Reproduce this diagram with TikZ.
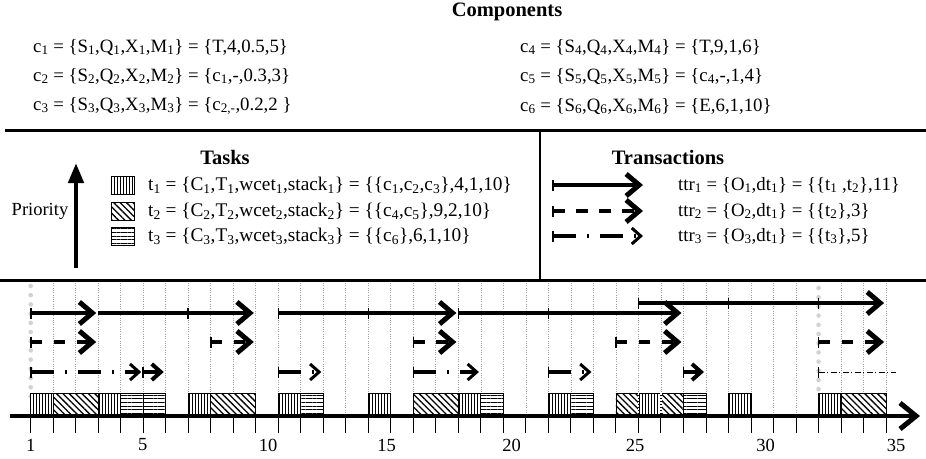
\documentclass[tikz,border=0pt]{standalone}
\usepackage{fontspec}
\setmainfont{Liberation Serif}
\usetikzlibrary{arrows.meta,patterns.meta,calc}
\newcommand{\dnidx}[1]{\textsubscript{#1}}

\begin{document}
\begin{tikzpicture}[x=1pt,y=-1pt,
  body/.style={inner sep=0pt,anchor=west,font=\fontsize{18.8}{22}\selectfont},
  taskline/.style={inner sep=0pt,anchor=west,font=\fontsize{19.3}{22}\selectfont},
  head/.style={inner sep=0pt,font=\fontsize{20.5}{22}\selectfont\bfseries},
  num/.style={inner sep=0pt,font=\fontsize{18.5}{22}\selectfont},
  rulebar/.style={line width=3pt},
  gridln/.style={gray!75,line width=0.8pt,dash pattern=on 1pt off 1.3pt},
  bigdots/.style={gray!35,line width=4.6pt,line cap=round,dash pattern=on 0pt off 9.2pt},
  tone/.style={preaction={fill=white},pattern={Lines[angle=90,distance=3pt,line width=0.8pt]},draw,line width=0.9pt},
  ttwo/.style={preaction={fill=white},pattern={Lines[angle=-45,distance=4.5pt,line width=1.3pt]},draw,line width=0.9pt},
  tthree/.style={preaction={fill=white},pattern={Lines[angle=0,distance=3.7pt,line width=0.9pt]},draw,line width=0.9pt},
  solidarr/.style={line width=3.5pt,-{Straight Barb[length=13pt,width=22pt,line width=5pt]},shorten >=2pt},
  dasharr/.style={solidarr,dash pattern=on 11.5pt off 11.5pt},
  dotarr/.style={line width=3.5pt,dash pattern=on 23pt off 11pt on 2pt off 11pt,-{Straight Barb[length=9pt,width=16pt,line width=3pt]},shorten >=2pt},
  shortarr/.style={line width=3.5pt,-{Straight Barb[length=9pt,width=16pt,line width=4pt]},shorten >=2pt},
  thindot/.style={line width=1pt,dash pattern=on 6pt off 2.5pt on 1pt off 2.5pt},
  barmk/.style={rectangle,fill=black,inner sep=0pt,minimum width=1.6pt,minimum height=11pt},
]
\useasboundingbox (0,0) rectangle (926,458);

% ---------- header: components ----------
\node[head] (comp) at (507,12) {Components};
\node[body] (c1) at (33,47)  {c\dnidx{1} = \{S\dnidx{1},Q\dnidx{1},X\dnidx{1},M\dnidx{1}\} = \{T,4,0.5,5\}};
\node[body] (c2) at (33,76)  {c\dnidx{2} = \{S\dnidx{2},Q\dnidx{2},X\dnidx{2},M\dnidx{2}\} = \{c\dnidx{1},-,0.3,3\}};
\node[body] (c3) at (33,106) {c\dnidx{3} = \{S\dnidx{3},Q\dnidx{3},X\dnidx{3},M\dnidx{3}\} = \{c\dnidx{2,-},0.2,2 \}};
\node[body] (c4) at (520,47)  {c\dnidx{4} = \{S\dnidx{4},Q\dnidx{4},X\dnidx{4},M\dnidx{4}\} = \{T,9,1,6\}};
\node[body] (c5) at (520,76)  {c\dnidx{5} = \{S\dnidx{5},Q\dnidx{5},X\dnidx{5},M\dnidx{5}\} = \{c\dnidx{4},-,1,4\}};
\node[body] (c6) at (520,106) {c\dnidx{6} = \{S\dnidx{6},Q\dnidx{6},X\dnidx{6},M\dnidx{6}\} = \{E,6,1,10\}};

% ---------- separators ----------
\coordinate (sa) at (5,130.5);   \coordinate (sb) at (926,130.5);
\coordinate (sc) at (540,130.5); \coordinate (sd) at (540,280);
\coordinate (se) at (0,280);     \coordinate (sf) at (926,280);
\draw[rulebar] (sa) -- (sb);
\draw[line width=2.5pt] (sc) -- (sd);
\draw[rulebar] (se) -- (sf);

% ---------- tasks legend ----------
\node[head] (tasks) at (225,157) {Tasks};
\node[num,anchor=center] (prio) at (40,211) {Priority};
\coordinate (pa) at (76,268); \coordinate (pb) at (76,163);
\draw[line width=4.5pt,-{Triangle[length=20pt,width=15pt]}] (pa) -- (pb);
\draw[tone]   (111,176) rectangle (134,194);
\draw[ttwo]   (111,202) rectangle (134,220);
\draw[tthree] (111,227) rectangle (134,245);
\node[taskline] (t1) at (148,185) {t\dnidx{1} = \{C\dnidx{1},T\dnidx{1},wcet\dnidx{1},stack\dnidx{1}\} = \{\{c\dnidx{1},c\dnidx{2},c\dnidx{3}\},4,1,10\}};
\node[taskline] (t2) at (148,211) {t\dnidx{2} = \{C\dnidx{2},T\dnidx{2},wcet\dnidx{2},stack\dnidx{2}\} = \{\{c\dnidx{4},c\dnidx{5}\},9,2,10\}};
\node[taskline] (t3) at (148,236) {t\dnidx{3} = \{C\dnidx{3},T\dnidx{3},wcet\dnidx{3},stack\dnidx{3}\} = \{\{c\dnidx{6}\},6,1,10\}};

% ---------- transactions legend ----------
\node[head] (trans) at (668,157) {Transactions};
\coordinate (la1) at (553,185); \coordinate (lb1) at (645,185);
\coordinate (la2) at (553,211); \coordinate (lb2) at (645,211);
\coordinate (la3) at (553,236); \coordinate (lb3) at (645,236);
\draw[solidarr] (la1) -- (lb1);
\draw[dasharr]  (la2) -- (lb2);
\draw[dotarr]   (la3) -- (lb3);
\node[barmk] (lbar1) at (la1) {};
\node[barmk] (lbar2) at (la2) {};
\node[barmk] (lbar3) at (la3) {};
\node[body] (ttr1) at (678,185) {ttr\dnidx{1} = \{O\dnidx{1},dt\dnidx{1}\} = \{\{t\dnidx{1} ,t\dnidx{2}\},11\}};
\node[body] (ttr2) at (678,211) {ttr\dnidx{2} = \{O\dnidx{2},dt\dnidx{1}\} = \{\{t\dnidx{2}\},3\}};
\node[body] (ttr3) at (678,236) {ttr\dnidx{3} = \{O\dnidx{3},dt\dnidx{1}\} = \{\{t\dnidx{3}\},5\}};

% ---------- time line ----------
\foreach \i in {0,...,38} \coordinate (t\i) at ({30.7+22.51*\i},416);
\coordinate (gtop) at (0,283);
\coordinate (rb) at (0,303);
\coordinate (ra) at (0,313);
\coordinate (rc) at (0,342);
\coordinate (rd) at (0,372);
\coordinate (btop) at (0,393);
\coordinate (tbot) at (0,433);

% grid
\foreach \i in {1,...,34,36,37,38} \draw[gridln] (t\i |- gtop) -- (t\i);
\coordinate (gd0a) at (0,286); \coordinate (gd0b) at (0,397);
\coordinate (gd35a) at (0,288); \coordinate (gd35b) at (0,390);
\draw[bigdots] (t0 |- gd0a) -- (t0 |- gd0b);
\draw[bigdots] (t35 |- gd35a) -- (t35 |- gd35b);

% executions
\foreach \a/\b/\s in {0/1/tone,1/3/ttwo,3/4/tone,4/5/tthree,5/6/tthree,7/8/tone,8/10/ttwo,
  11/12/tone,12/13/tthree,15/16/tone,17/19/ttwo,19/20/tone,20/21/tthree,23/24/tone,
  24/25/tthree,26/27/ttwo,27/28/tone,28/29/ttwo,29/30/tthree,31/32/tone,35/36/tone,36/38/ttwo}
  \draw[\s] (t\a |- btop) rectangle (t\b);
\foreach \i in {27,28}
  \draw[white,line width=1.3pt,dash pattern=on 1.5pt off 1.5pt] (t\i |- btop) -- (t\i);

% transaction ttr1
\draw[solidarr] (t0 |- ra) -- (t3 |- ra);
\draw[solidarr] (t3 |- ra) -- (t10 |- ra);
\draw[solidarr] (t11 |- ra) -- (t19 |- ra);
\draw[solidarr] (t19 |- ra) -- (t29 |- ra);
\draw[solidarr] (t27 |- rb) -- (t38 |- rb);
% transaction ttr2
\foreach \a/\b in {0/3,8/10,17/19,26/29,35/38}
  \draw[dasharr] (t\a |- rc) -- (t\b |- rc);
% transaction ttr3
\foreach \a/\b in {0/5,11/13,17/20,23/25}
  \draw[dotarr] (t\a |- rd) -- (t\b |- rd);
\foreach \a/\b in {5/6,29/30}
  \draw[shortarr] (t\a |- rd) -- (t\b |- rd);
\coordinate (thinend) at (896,372);
\draw[thindot] (t35 |- rd) -- (thinend);

% release marks
\foreach \i/\r in {0/ra,7/ra,11/ra,15/ra,19/ra,23/ra,27/rb,31/rb,35/rb,
  0/rc,8/rc,17/rc,26/rc,35/rc,0/rd,5/rd,11/rd,17/rd,23/rd,29/rd,35/rd}
  \node[barmk] (bar-\r-\i) at (t\i |- \r) {};

% axis
\coordinate (axs) at (10,416); \coordinate (axe) at (920,416);
\draw[line width=3.5pt,-{Straight Barb[length=16pt,width=26pt,line width=5pt]}] (axs) -- (axe);
\foreach \i in {0,...,38} \draw[line width=1pt] (t\i) -- (t\i |- tbot);
\foreach \v/\x in {1/30.7,5/142.7,10/268,15/386.7,20/511.7,25/635,30/765.7,35/896}
  \node[num] (lab\v) at (\x,445) {\v};
\end{tikzpicture}
\end{document}
